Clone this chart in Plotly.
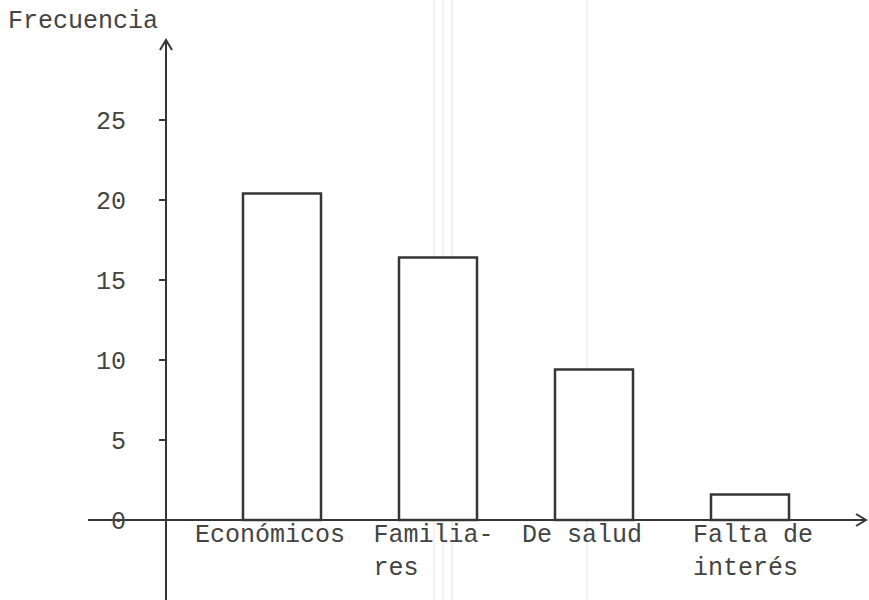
import plotly.graph_objects as go

# Data
categorias = ["Económicos", "Familiares", "De salud", "Falta de interés"]
etiquetas = [
    "Económicos",
    "\u00a0Familia-<br>\u00a0res\u00a0\u00a0\u00a0\u00a0\u00a0",
    "De salud",
    "\u00a0\u00a0Falta de<br>\u00a0\u00a0interés\u00a0",
]
frecuencias = [20.4, 16.4, 9.4, 1.6]
y_ticks = [0, 5, 10, 15, 20, 25]
y_ticklabels = ["0", "5", "10", "15", "20", "25"]
titulo_y = "Frecuencia"

W, H = 869, 600
FONT = "Liberation Mono, Courier New, monospace"
INK = "#363636"
TXT = "#444444"
FS = 25

fig = go.Figure()
fig.add_trace(go.Bar(
    x=categorias, y=frecuencias, width=0.5,
    marker=dict(color="white", line=dict(color=INK, width=2.5)),
    showlegend=False, hoverinfo="skip",
))

def px(x):
    return x / W

def py(y):
    return 1 - y / H

shapes = []
# faint scan artefact lines
for xa in [434, 443, 452, 587]:
    shapes.append(dict(type="line", xref="paper", yref="paper",
                       x0=px(xa), x1=px(xa), y0=0, y1=1,
                       line=dict(color="#ececec", width=1.5), layer="below"))
# arrow heads
shapes.append(dict(type="path", xref="paper", yref="paper",
                   path=f"M {px(856)},{py(514)} L {px(866)},{py(520)} L {px(856)},{py(526)}",
                   line=dict(color=INK, width=2)))
shapes.append(dict(type="path", xref="paper", yref="paper",
                   path=f"M {px(160)},{py(50)} L {px(166)},{py(40)} L {px(172)},{py(50)}",
                   line=dict(color=INK, width=2)))

xmin = -(282 - 88) / 156
xmax = xmin + (866 - 88) / 156

fig.update_layout(
    width=W, height=H,
    margin=dict(l=0, r=0, t=0, b=0),
    paper_bgcolor="white", plot_bgcolor="white",
    font=dict(family=FONT, size=FS, color=TXT),
    shapes=shapes,
    xaxis=dict(
        domain=[88 / W, 866 / W], range=[xmin, xmax],
        anchor="free", position=80 / H,
        showline=True, linecolor=INK, linewidth=2,
        showgrid=False, zeroline=False,
        tickvals=categorias, ticktext=etiquetas,
        ticks="", tickfont=dict(family=FONT, size=FS, color=TXT),
        ticklabelstandoff=-9, ticklabelshift=-12,
    ),
    yaxis=dict(
        domain=[0, 560 / H], range=[-5, 30],
        anchor="free", position=166 / W,
        showline=True, linecolor=INK, linewidth=2,
        showgrid=False, zeroline=False,
        tickvals=y_ticks, ticktext=y_ticklabels,
        ticks="outside", ticklen=6, tickwidth=2, tickcolor=INK,
        tickfont=dict(family=FONT, size=FS, color=TXT),
        ticklabelstandoff=28,
    ),
    annotations=[dict(
        text=titulo_y, xref="paper", yref="paper",
        x=px(6), y=py(21), xanchor="left", yanchor="middle",
        showarrow=False, font=dict(family=FONT, size=FS, color=TXT),
    )],
)

fig.write_html(
    "out.html",
    config={"displayModeBar": False},
    post_script="document.body.style.margin='0';document.body.style.padding='0';",
)
